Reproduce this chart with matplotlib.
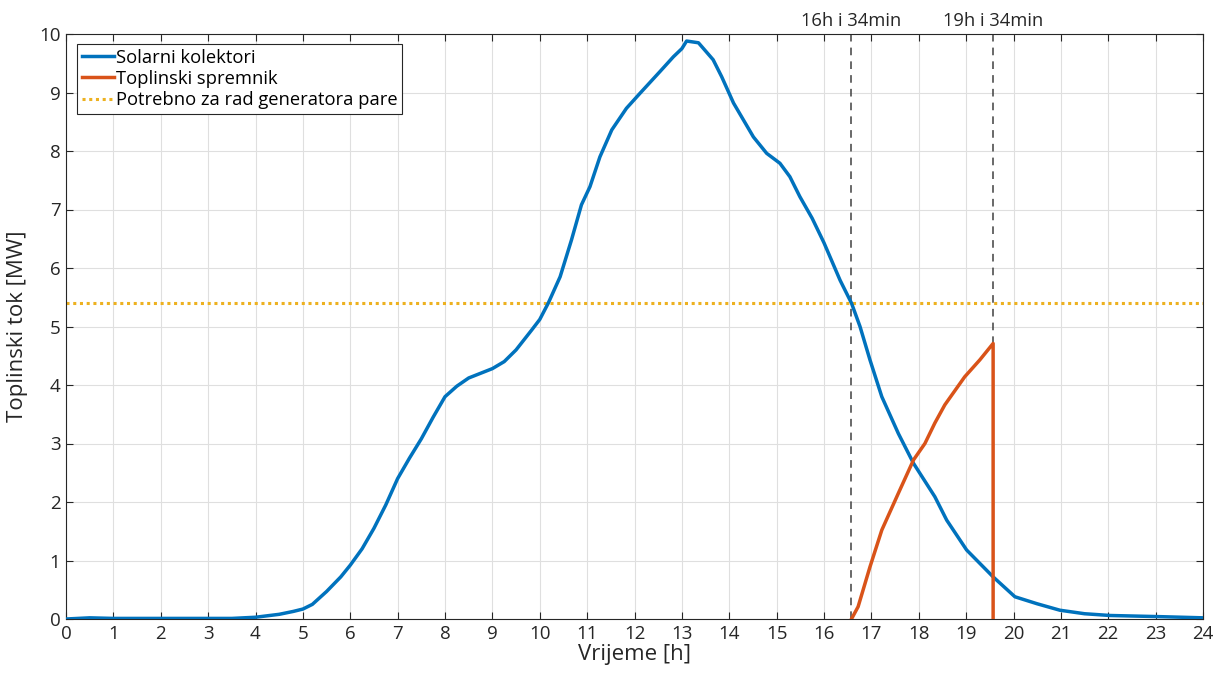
import matplotlib
matplotlib.use("Agg")
import matplotlib.pyplot as plt
import matplotlib.transforms as mtransforms

plt.rcParams['font.family'] = ['Open Sans', 'DejaVu Sans']

# --- data ---
solar_h = [0, 0.5, 1, 2, 3, 3.5, 4, 4.5, 4.8, 5, 5.2, 5.5, 5.8, 6, 6.25, 6.5, 6.75, 7, 7.25,
           7.5, 7.75, 8, 8.25, 8.5, 9, 9.25, 9.5, 9.83, 10, 10.18, 10.43, 10.67, 10.88, 11.06,
           11.27, 11.52, 11.83, 12.12, 12.54, 12.82, 13.0, 13.1, 13.35, 13.66, 13.84, 14.09,
           14.51, 14.79, 15.07, 15.28, 15.49, 15.75, 16.0, 16.34, 16.58, 16.76, 16.97, 17.22,
           17.57, 17.89, 18.34, 18.59, 19.01, 19.57, 20.03, 20.5, 20.98, 21.5, 22.04, 23.1, 24]
solar_mw = [0.0, 0.02, 0.01, 0.01, 0.01, 0.01, 0.03, 0.08, 0.13, 0.17, 0.25, 0.47, 0.72, 0.92,
            1.2, 1.55, 1.95, 2.4, 2.75, 3.08, 3.45, 3.8, 3.98, 4.12, 4.28, 4.4, 4.6, 4.94, 5.12,
            5.4, 5.85, 6.48, 7.08, 7.39, 7.9, 8.36, 8.73, 8.99, 9.36, 9.61, 9.75, 9.88, 9.85,
            9.56, 9.27, 8.82, 8.24, 7.96, 7.79, 7.56, 7.22, 6.85, 6.43, 5.79, 5.4, 5.0, 4.43,
            3.8, 3.17, 2.66, 2.09, 1.69, 1.18, 0.72, 0.38, 0.26, 0.15, 0.09, 0.06, 0.04, 0.02]

storage_h = [16.58, 16.72, 16.97, 17.22, 17.57, 17.89, 18.13, 18.34, 18.55, 18.97, 19.29, 19.57, 19.57]
storage_mw = [0, 0.21, 0.89, 1.52, 2.15, 2.72, 3.0, 3.35, 3.66, 4.14, 4.43, 4.71, 0]

required_mw = 5.4
event_times = [16 + 34 / 60, 19 + 34 / 60]
event_labels = ['16h i 34min', '19h i 34min']

labels = ['Solarni kolektori', 'Toplinski spremnik', 'Potrebno za rad generatora pare']
x_ticks = list(range(0, 25))
y_ticks = list(range(0, 11))

# --- plot ---
fig = plt.figure(figsize=(12.17, 6.77), dpi=100)
ax = fig.add_axes([66 / 1217, 58 / 677, (1203 - 66) / 1217, (619 - 34) / 677])

ax.plot(solar_h, solar_mw, color='#0072BD', lw=2.5, label=labels[0], zorder=3)
ax.plot(storage_h, storage_mw, color='#D95319', lw=2.5, label=labels[1], zorder=3)
ax.axhline(required_mw, color='#EDB120', lw=2.2, ls=(0, (1, 1.2)), label=labels[2], zorder=2)

trans = mtransforms.blended_transform_factory(ax.transData, ax.transAxes)
for t, lab in zip(event_times, event_labels):
    ax.plot([t, t], [0, 10], color='#404040', lw=1.1, ls=(0, (5, 4)), zorder=2)
    ax.text(t, 1.006, lab, transform=trans, ha='center', va='bottom', fontsize=13.2, color='#262626')

ax.set_xlim(0, 24)
ax.set_ylim(0, 10)
ax.set_xticks(x_ticks)
ax.set_yticks(y_ticks)
ax.tick_params(direction='in', top=True, right=True, labelsize=13.5, colors='#262626',
               length=5, width=0.8, pad=4)
ax.grid(True, color='#dfdfdf', lw=0.8)
ax.set_axisbelow(True)
for s in ax.spines.values():
    s.set_color('#262626')
    s.set_linewidth(0.8)

ax.set_xlabel('Vrijeme [h]', fontsize=16, color='#262626', labelpad=1)
ax.set_ylabel('Toplinski tok [MW]', fontsize=16, color='#262626', labelpad=8)

leg = ax.legend(loc='upper left', bbox_to_anchor=(0.0097, 0.983), fontsize=13.2, frameon=True,
                fancybox=False, edgecolor='#262626', framealpha=1, borderpad=0.25,
                handlelength=1.75, handletextpad=0.1, labelspacing=0.18, borderaxespad=0)
leg.get_frame().set_linewidth(0.8)

fig.savefig('out.png', dpi=100)
